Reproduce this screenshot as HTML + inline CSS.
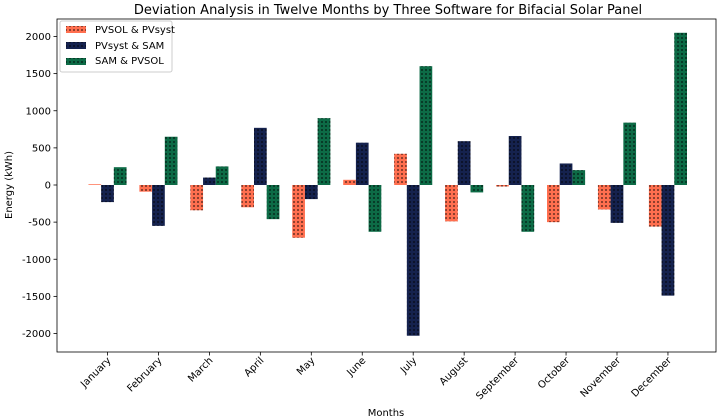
<!DOCTYPE html>
<html><head><meta charset="utf-8"><style>
body{margin:0;background:#fff}
svg{font-family:"DejaVu Sans","Liberation Sans",sans-serif;display:block}
</style></head><body>
<svg id="chart" width="719" height="419">
<defs>
<pattern id="dots" width="4" height="4" patternUnits="userSpaceOnUse"><circle cx="2" cy="2" r="0.9" fill="#000" opacity="0.75"/></pattern>
</defs>
<text x="388" y="14" text-anchor="middle" font-size="13" fill="#000">Deviation Analysis in Twelve Months by Three Software for Bifacial Solar Panel</text>
<text transform="translate(12,185) rotate(-90)" text-anchor="middle" font-size="10">Energy (kWh)</text>
<text x="386" y="416" text-anchor="middle" font-size="10">Months</text>
<g id="bars"></g>
<g id="axes"></g>
<g>
<rect x="60" y="21" width="112" height="51" fill="#fff" stroke="#ccc" rx="2"/>
<g><rect x="66" y="26" width="20" height="7" fill="#ff6f4f"/><rect x="66" y="26" width="20" height="7" fill="url(#dots)"/><text x="95" y="33" font-size="10">PVSOL &amp; PVsyst</text></g>
<g><rect x="66" y="42" width="20" height="7" fill="#15224e"/><rect x="66" y="42" width="20" height="7" fill="url(#dots)"/><text x="95" y="49" font-size="10">PVsyst &amp; SAM</text></g>
<g><rect x="66" y="58" width="20" height="7" fill="#0d6b46"/><rect x="66" y="58" width="20" height="7" fill="url(#dots)"/><text x="95" y="64" font-size="10">SAM &amp; PVSOL</text></g>
</g>
</svg>
<script>
const months=["January","February","March","April","May","June","July","August","September","October","November","December"];
const pvsolPvsyst=[10,-90,-340,-300,-710,70,420,-490,-20,-500,-330,-560];
const pvsystSam=[-230,-550,100,770,-190,570,-2030,590,660,290,-510,-1490];
const samPvsol=[240,650,250,-460,900,-630,1600,-100,-630,200,840,2050];
const yTicks=[-2000,-1500,-1000,-500,0,500,1000,1500,2000];
const NS="http://www.w3.org/2000/svg";
const L=57,R=716,T=19,B=352;
const xS=i=>107.5+i*50.95;
const yS=v=>185-v*0.07425;
const bw=12.7;
const bars=document.getElementById('bars'),axes=document.getElementById('axes');
function mk(t,a,p){const e=document.createElementNS(NS,t);for(const k in a)e.setAttribute(k,a[k]);(p||bars).appendChild(e);return e;}
const series=[[pvsolPvsyst,"#ff6f4f",-1,"pvsol-pvsyst"],[pvsystSam,"#15224e",0,"pvsyst-sam"],[samPvsol,"#0d6b46",1,"sam-pvsol"]];
series.forEach(([arr,col,off,nm])=>{arr.forEach((v,i)=>{
const x=xS(i)+off*bw-bw/2,y=Math.min(yS(v),yS(0)),h=Math.abs(yS(v)-yS(0));
const r=mk('rect',{x:x,y:y,width:bw,height:h,fill:col});


const p=mk('rect',{x:x,y:y,width:bw,height:h,fill:'url(#dots)'});


});});
const fr=mk('rect',{x:L,y:T,width:R-L,height:B-T,fill:'none',stroke:'#000','stroke-width':0.8},axes);


yTicks.forEach(v=>{const y=yS(v);
mk('line',{x1:L-3.5,x2:L,y1:y,y2:y,stroke:'#000','stroke-width':0.8},axes);
const t=mk('text',{x:L-6,y:y+3.5,'text-anchor':'end','font-size':10},axes);t.textContent=v;


});
months.forEach((m,i)=>{const x=xS(i);
mk('line',{x1:x,x2:x,y1:B,y2:B+3.5,stroke:'#000','stroke-width':0.8},axes);
const t=mk('text',{x:x+4,y:B+9,'text-anchor':'end','font-size':10,transform:`rotate(-45 ${x+4} ${B+9})`},axes);t.textContent=m;


});
</script>
</body></html>
